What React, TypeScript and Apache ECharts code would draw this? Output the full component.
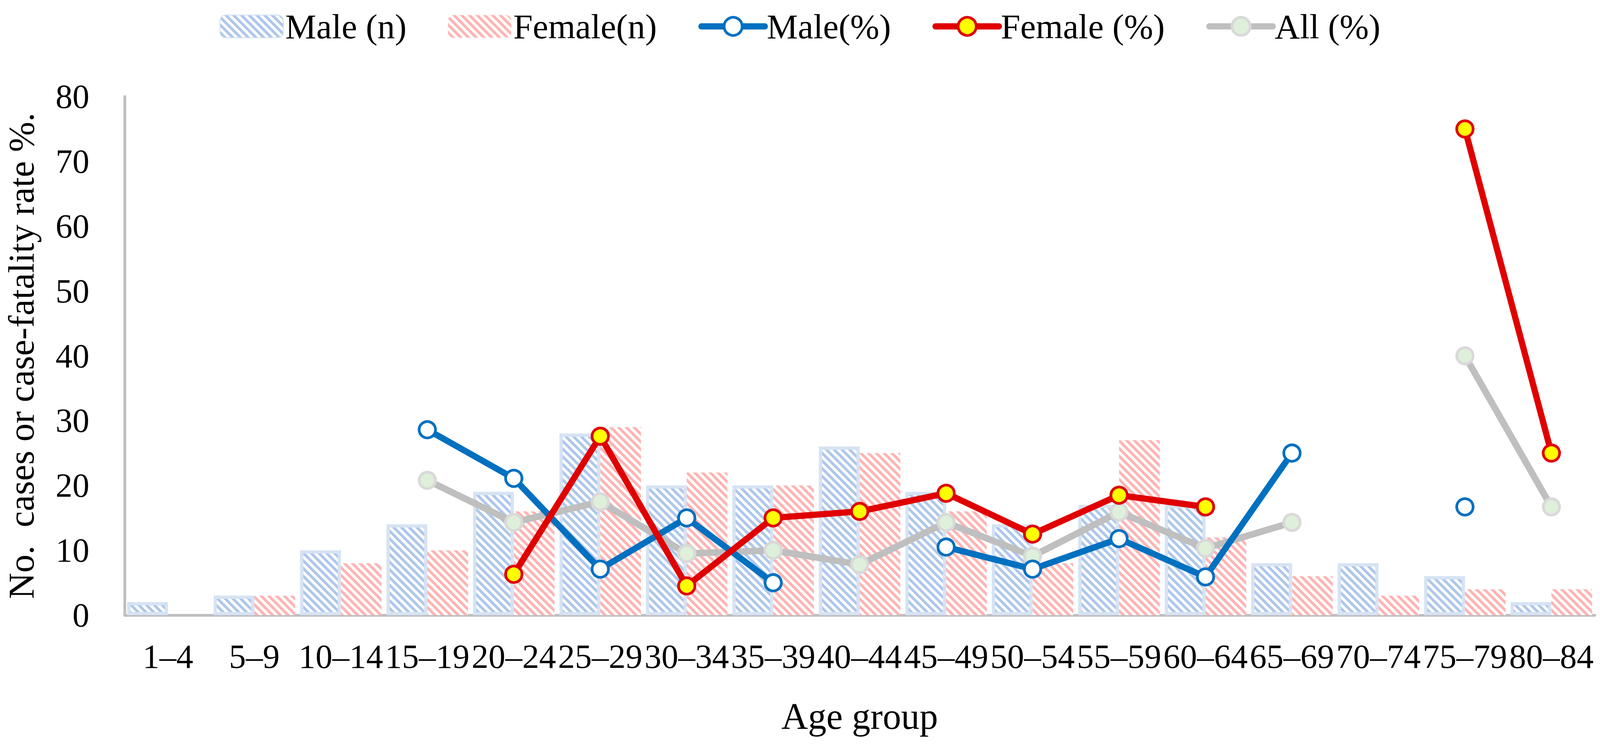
import React, { useEffect, useRef } from "react";
import * as echarts from "echarts";

const categories = ["1–4", "5–9", "10–14", "15–19", "20–24", "25–29", "30–34", "35–39", "40–44", "45–49", "50–54", "55–59", "60–64", "65–69", "70–74", "75–79", "80–84"];
const maleN = [2, 3, 10, 14, 19, 28, 20, 20, 26, 19, 14, 17, 17, 8, 8, 6, 2];
const femaleN = [0, 3, 8, 10, 16, 29, 22, 20, 25, 16, 8, 27, 12, 6, 3, 4, 4];
const malePct = [null, null, null, 28.6, 21.1, 7.1, 15.0, 5.0, null, 10.5, 7.1, 11.8, 5.9, 25.0, null, 16.7, null];
const femalePct = [null, null, null, null, 6.3, 27.6, 4.5, 15.0, 16.0, 18.8, 12.5, 18.5, 16.7, null, null, 75.0, 25.0];
const allPct = [null, null, null, 20.8, 14.3, 17.5, 9.5, 10.0, 7.8, 14.3, 9.1, 15.9, 10.3, 14.3, null, 40.0, 16.7];
const yTicks = { min: 0, max: 80, interval: 10 };

const FONT = "'Liberation Serif', 'Times New Roman', serif";

export default function App() {
  const ref = useRef<HTMLDivElement>(null);
  useEffect(() => {
    document.body.style.margin = "0";
    document.body.style.overflow = "hidden";
    const el = ref.current!;
    const W = window.innerWidth;
    const H = window.innerHeight;
    el.style.width = W + "px";
    el.style.height = H + "px";
    const kx = W / 4167;
    const ky = H / 1914;
    const x = (v: number) => v * kx;
    const y = (v: number) => v * ky;
    const chart = echarts.init(el, null, { renderer: "svg" });
    const lineCommon = {
      type: "line",
      symbol: "circle",
      symbolSize: 42,
      showSymbol: true,
      showAllSymbol: true,
      connectNulls: false,
    };
    const lineLegend = { lineStyle: { width: 16 }, itemStyle: { borderWidth: 7 } };
    chart.setOption({
      animation: false,
      backgroundColor: "#ffffff",
      textStyle: { fontFamily: FONT, color: "#000" },
      legend: {
        left: "center",
        top: y(18),
        itemWidth: x(165),
        itemHeight: y(58),
        itemGap: x(108),
        textStyle: { fontFamily: FONT, fontSize: x(91), color: "#000" },
        data: [
          { name: "Male (n)" },
          { name: "Female(n)" },
          { name: "Male(%)", ...lineLegend },
          { name: "Female (%)", ...lineLegend },
          { name: "All (%)", ...lineLegend },
        ],
      },
      grid: { left: x(314), right: x(14), top: y(247), bottom: y(340), containLabel: false },
      xAxis: {
        type: "category",
        data: categories,
        name: "Age group",
        nameLocation: "middle",
        nameGap: y(212),
        nameTextStyle: { fontFamily: FONT, fontSize: x(96), color: "#000" },
        axisLine: { show: true, lineStyle: { color: "#BFBFBF", width: 7 } },
        axisTick: { show: false },
        axisLabel: { interval: 0, margin: y(62), fontFamily: FONT, fontSize: x(88), color: "#000" },
        splitLine: { show: false },
      },
      yAxis: {
        type: "value",
        min: yTicks.min,
        max: yTicks.max,
        interval: yTicks.interval,
        name: "No.  cases or case-fatality rate %.",
        nameLocation: "middle",
        nameGap: x(222),
        nameTextStyle: { fontFamily: FONT, fontSize: y(93), color: "#000" },
        axisLine: { show: true, lineStyle: { color: "#BFBFBF", width: 7 } },
        axisTick: { show: false },
        axisLabel: { margin: x(92), fontFamily: FONT, fontSize: x(88), color: "#000" },
        splitLine: { show: false },
      },
      series: [
        {
          name: "Male (n)",
          type: "bar",
          data: maleN,
          barWidth: x(106),
          barGap: "0%",
          itemStyle: {
            color: "#ffffff",
            borderColor: "#D6E3F4",
            borderWidth: 8,
            decal: {
              symbol: "rect",
              symbolSize: 1,
              color: "#AEC7EA",
              dashArrayX: [1, 0],
              dashArrayY: [7, 7],
              rotation: Math.PI / 4,
            },
          },
          z: 1,
        },
        {
          name: "Female(n)",
          type: "bar",
          data: femaleN,
          barWidth: x(106),
          barGap: "0%",
          itemStyle: {
            color: "#ffffff",
            decal: {
              symbol: "rect",
              symbolSize: 1,
              color: "#FFB3B3",
              dashArrayX: [1, 0],
              dashArrayY: [7, 7],
              rotation: Math.PI / 4,
            },
          },
          z: 1,
        },
        {
          ...lineCommon,
          name: "Male(%)",
          data: malePct,
          lineStyle: { color: "#0070C0", width: 16, cap: "round", join: "round" },
          itemStyle: { color: "#ffffff", borderColor: "#0070C0", borderWidth: 7 },
          z: 4,
        },
        {
          ...lineCommon,
          name: "Female (%)",
          data: femalePct,
          lineStyle: { color: "#E00000", width: 16, cap: "round", join: "round" },
          itemStyle: { color: "#FFFF00", borderColor: "#E00000", borderWidth: 7 },
          z: 5,
        },
        {
          ...lineCommon,
          name: "All (%)",
          data: allPct,
          lineStyle: { color: "#BFBFBF", width: 17, cap: "round", join: "round" },
          itemStyle: { color: "#DEEFDA", borderColor: "#D9D9D9", borderWidth: 7 },
          z: 3,
        },
      ],
    });
    return () => chart.dispose();
  }, []);
  return <div ref={ref} style={{ width: 4167, height: 1914 }} />;
}
